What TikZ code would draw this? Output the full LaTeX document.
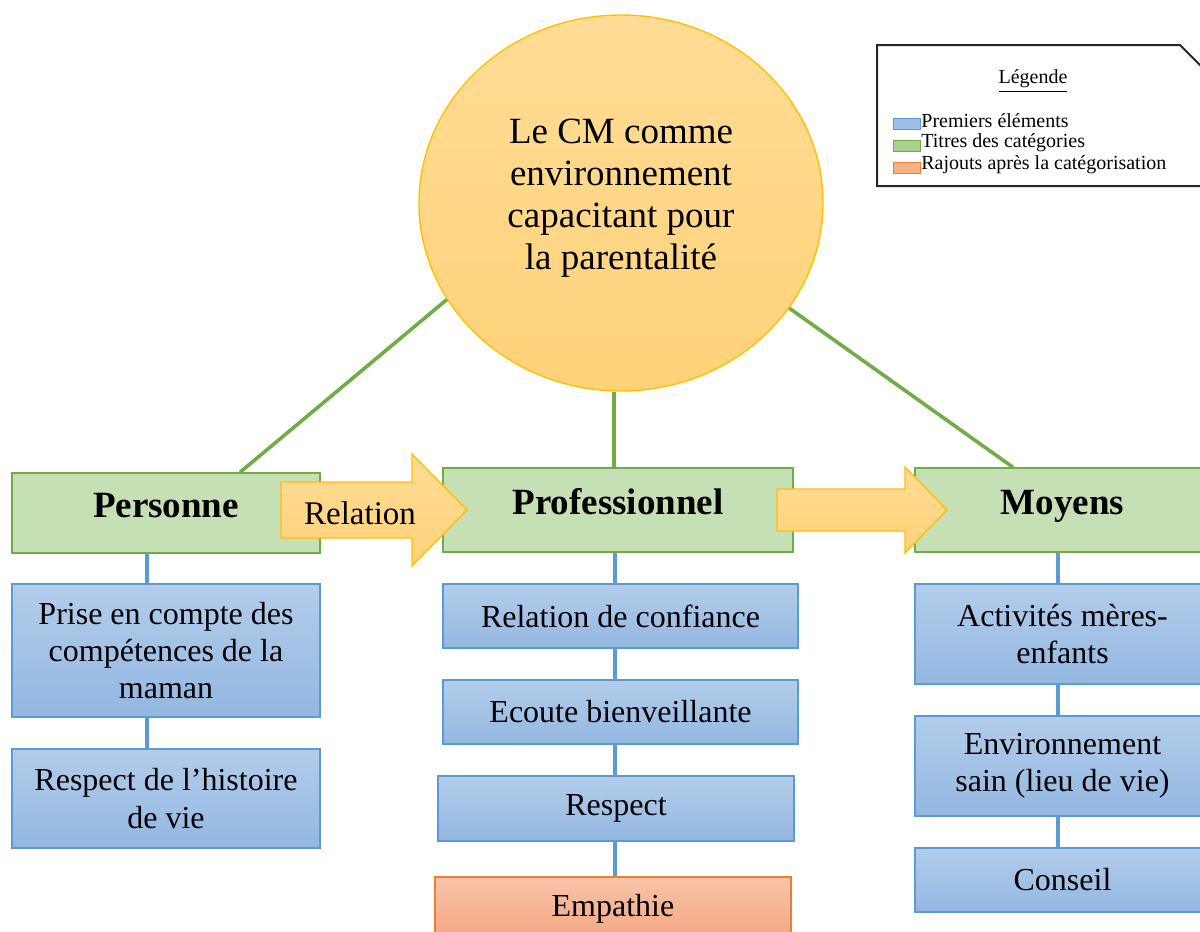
\documentclass[tikz,border=0pt]{standalone}
\usepackage{fontspec}
\setmainfont{Liberation Serif}
\usetikzlibrary{shapes.geometric,calc}
\definecolor{gfill}{HTML}{C5E0B4}
\definecolor{gline}{HTML}{70AD47}
\definecolor{btop}{HTML}{B3CDEB}
\definecolor{bbot}{HTML}{93B7E1}
\definecolor{bline}{HTML}{5B9BD5}
\definecolor{otop}{HTML}{F7C4A9}
\definecolor{obot}{HTML}{F4A682}
\definecolor{oline}{HTML}{ED7D31}
\definecolor{ytop}{HTML}{FFDC95}
\definecolor{ybot}{HTML}{FFD27A}
\definecolor{yline}{HTML}{FFC000}
\definecolor{legb}{HTML}{9DC0E8}
\definecolor{legg}{HTML}{A9D18E}
\definecolor{lego}{HTML}{F4B183}
\begin{document}
\begin{tikzpicture}[x=0.5pt,y=-0.5pt,
 catbox/.style={draw=gline, fill=gfill, line width=0.7pt, font=\fontsize{18.5}{22}\selectfont\bfseries, inner sep=0pt, align=center, text height=12.5pt, text depth=8pt},
 itembox/.style={draw=bline, top color=btop, bottom color=bbot, line width=0.7pt, font=\fontsize{16}{18.7}\selectfont, inner sep=0pt, align=center},
 addbox/.style={itembox, draw=oline, top color=otop, bottom color=obot},
 glink/.style={draw=gline, line width=1.8pt},
 blink/.style={draw=bline, line width=1.8pt},
 bigarrow/.style={draw=yline, top color=ytop, bottom color=ybot, line width=0.7pt, line join=miter},
 legsw/.style={minimum width=13.5pt, minimum height=5.5pt, inner sep=0pt, line width=0.5pt},
 legtxt/.style={anchor=west, inner sep=0pt, font=\fontsize{10}{11}\selectfont},
]
\useasboundingbox (0,0) rectangle (1200,932);

% central ellipse
\node[ellipse, draw=yline, top color=ytop, bottom color=ybot, line width=0.7pt,
      minimum width=202pt, minimum height=188pt, inner sep=0pt,
      label={[align=center, font=\fontsize{18.5}{21}\selectfont, yshift=2.5pt]center:Le CM comme\\environnement\\capacitant pour\\la parentalité}] (circ) at (621,203) {};

% category boxes
\node[catbox, minimum width=154pt, minimum height=40pt] (pers) at (166,513) {Personne};
\node[catbox, minimum width=175pt, minimum height=42pt] (prof) at (618,510) {Professionnel};
\node[catbox, minimum width=147.5pt, minimum height=42pt] (moy) at (1062.5,510) {Moyens};

% column positions
\coordinate (xp) at (147,0);
\coordinate (xq) at (615,0);
\coordinate (xm) at (1058,0);
\coordinate (xl) at (240,0);
\coordinate (xg) at (614,0);
\coordinate (xr) at (1013,0);

% green links
\draw[glink] (circ.209) -- (pers.north -| xl);
\draw[glink] (circ.south -| xg) -- (prof.north -| xg);
\draw[glink] (circ.328) -- (moy.north -| xr);

% item boxes
\node[itembox, minimum width=154pt, minimum height=66.5pt] (prise) at (166,650.5) {Prise en compte des\\compétences de la\\maman};
\node[itembox, minimum width=154pt, minimum height=49.5pt] (hist) at (166,798.5) {Respect de l’histoire\\de vie};
\node[itembox, minimum width=177.5pt, minimum height=32pt] (conf) at (620.5,616) {Relation de confiance};
\node[itembox, minimum width=177.5pt, minimum height=32pt] (ecoute) at (620.5,712) {Ecoute bienveillante};
\node[itembox, minimum width=178pt, minimum height=32.5pt] (resp) at (616,808.5) {Respect};
\node[addbox, minimum width=178pt, minimum height=31.5pt] (emp) at (613,908.5) {Empathie};
\node[itembox, minimum width=147.5pt, minimum height=50pt] (act) at (1062.5,634) {Activités mères-\\enfants};
\node[itembox, minimum width=147.5pt, minimum height=50pt] (env) at (1062.5,766) {Environnement\\sain (lieu de vie)};
\node[itembox, minimum width=147.5pt, minimum height=32pt] (cons) at (1062.5,880) {Conseil};

% blue links
\draw[blink] (pers.south -| xp) -- (prise.north -| xp);
\draw[blink] (prise.south -| xp) -- (hist.north -| xp);
\draw[blink] (prof.south -| xq) -- (conf.north -| xq);
\draw[blink] (conf.south -| xq) -- (ecoute.north -| xq);
\draw[blink] (ecoute.south -| xq) -- (resp.north -| xq);
\draw[blink] (resp.south -| xq) -- (emp.north -| xq);
\draw[blink] (moy.south -| xm) -- (act.north -| xm);
\draw[blink] (act.south -| xm) -- (env.north -| xm);
\draw[blink] (env.south -| xm) -- (cons.north -| xm);

% block arrows
\draw[bigarrow] (281,482) -- (412,482) -- (412,454) -- (467,510) -- (412,566) -- (412,538) -- (281,538) -- cycle;
\node[font=\fontsize{16.5}{18}\selectfont] (rel) at (360,513) {Relation};
\draw[bigarrow] (777,489) -- (905,489) -- (905,467) -- (947,510) -- (905,553) -- (905,531) -- (777,531) -- cycle;

% legend
\draw[line width=1pt, draw=black!85] (877,45) -- (1180,45) -- (1212,77) -- (1212,186) -- (877,186) -- cycle;
\node[font=\fontsize{10}{11}\selectfont] (legt) at (1033,81) {\underline{Légende}};
\node[legsw, draw=bline, fill=legb] (sw1) at (906.5,123.5) {};
\node[legsw, draw=gline, fill=legg] (sw2) at (906.5,145.5) {};
\node[legsw, draw=oline, fill=lego] (sw3) at (906.5,167.5) {};
\node[legtxt] (lt1) at (921,121) {Premiers éléments};
\node[legtxt] (lt2) at (921,143) {Titres des catégories};
\node[legtxt] (lt3) at (921,165) {Rajouts après la catégorisation};
\end{tikzpicture}
\end{document}
